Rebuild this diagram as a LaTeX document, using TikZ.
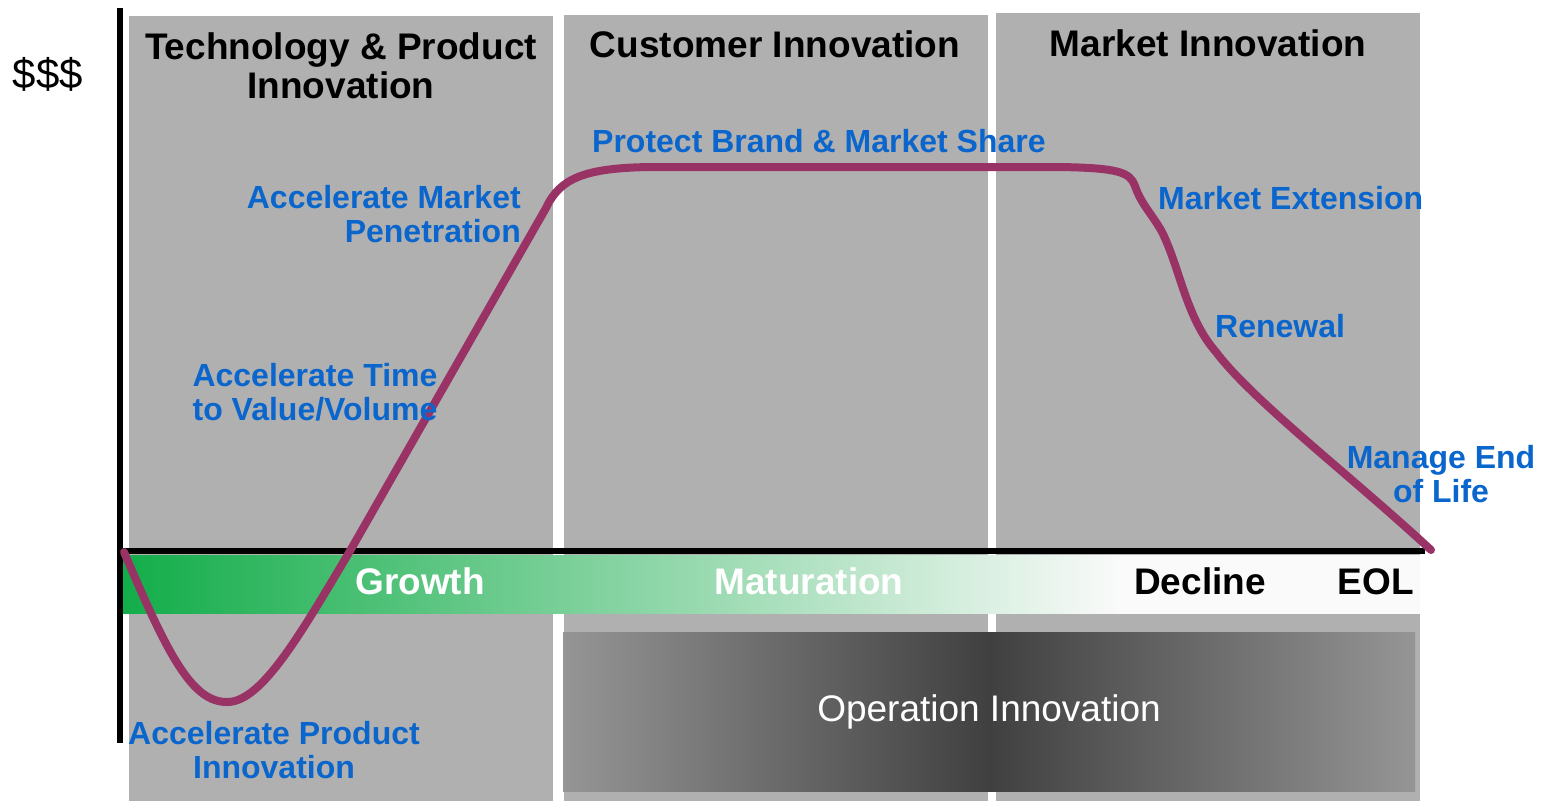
\documentclass[tikz,border=0pt]{standalone}
\usepackage{fontspec}
\setmainfont{Liberation Sans}
\definecolor{panelgray}{HTML}{B0B0B0}
\definecolor{curvecol}{HTML}{993366}
\definecolor{lblue}{HTML}{0A66CC}
\definecolor{gstart}{HTML}{13AD4A}
\definecolor{bandend}{HTML}{FAFAFA}
\definecolor{opgray}{HTML}{959595}
\definecolor{opdark}{HTML}{404040}
\pgfdeclarehorizontalshading{bandshade}{100bp}{color(0bp)=(gstart); color(25bp)=(gstart); color(63.5bp)=(bandend); color(100bp)=(bandend)}
\begin{document}
\begin{tikzpicture}[x=1pt,y=-1pt,
  title/.style={font=\fontsize{37}{39.5}\selectfont\bfseries, inner sep=0pt, align=center},
  lbl/.style={font=\fontsize{32}{34}\selectfont\bfseries, text=lblue, inner sep=0pt},
  stage/.style={font=\fontsize{37}{40}\selectfont\bfseries, inner sep=0pt, anchor=base},
  axisline/.style={line width=6pt, black},
  lifecurve/.style={line width=8pt, curvecol, line cap=round, line join=round},
]
\useasboundingbox (0,0) rectangle (1545,801);
% panels
\fill[panelgray] (129,16) rectangle (553,801);
\fill[panelgray] (564,15) rectangle (988,801);
\fill[panelgray] (996,13) rectangle (1420,801);
% green band
\shade[shading=bandshade] (122,555) rectangle (1420,613);
% operation box
\node[left color=opgray, right color=opgray, middle color=opdark,
      minimum width=852pt, minimum height=159pt, inner sep=0pt,
      text=white, font=\fontsize{37}{40}\selectfont] (op) at (989,711.5) {Operation Innovation};
% axes
\coordinate (ytop) at (120,8);
\coordinate (ybot) at (120,743);
\coordinate (xl) at (117,551);
\coordinate (xr) at (1425,551);
\draw[axisline] (ytop) -- (ybot);
\draw[axisline] (xl) -- (xr);
% curve
\draw[lifecurve] (124,552) .. controls (168,655) and (192,703) .. (228,702)
  .. controls (262,701) and (300,635) .. (350,551) -- (546,208)
  .. controls (560,178) and (585,168) .. (650,167) -- (1060,167)
  .. controls (1118,168) and (1130,172) .. (1135,186)
  .. controls (1141,204) and (1152,214) .. (1162,232)
  .. controls (1180,268) and (1186,318) .. (1216,352)
  .. controls (1252,400) and (1350,475) .. (1431,550);
% titles
\node[font=\fontsize{42}{44}\selectfont, inner sep=0pt, anchor=base] (money) at (48,88) {\$\$\$};
\node[title, anchor=north] (t1) at (341,32) {Technology \& Product\\Innovation};
\node[title, anchor=base] (t2) at (775,57) {Customer Innovation};
\node[title, anchor=base] (t3) at (1208,56) {Market Innovation};
% blue labels
\node[lbl, anchor=base west] (protect) at (592,152) {Protect Brand \& Market Share};
\node[lbl, anchor=north east, align=right] (penet) at (521,185) {Accelerate Market\\Penetration};
\node[lbl, anchor=north, align=center] (ttv) at (315,363) {Accelerate Time\\to Value/Volume};
\node[lbl, anchor=base west] (mext) at (1158,209) {Market Extension};
\node[lbl, anchor=base west] (renew) at (1215,337) {Renewal};
\node[lbl, anchor=north, align=center] (eol) at (1441,445) {Manage End\\of Life};
\node[lbl, anchor=north, align=center] (api) at (274,721) {Accelerate Product\\Innovation};
% stages
\node[stage, text=white] (growth) at (420,594) {Growth};
\node[stage, text=white] (matur) at (809,594) {Maturation};
\node[stage] (decl) at (1200,594) {Decline};
\node[stage] (eolst) at (1376,594) {EOL};
\end{tikzpicture}
\end{document}
